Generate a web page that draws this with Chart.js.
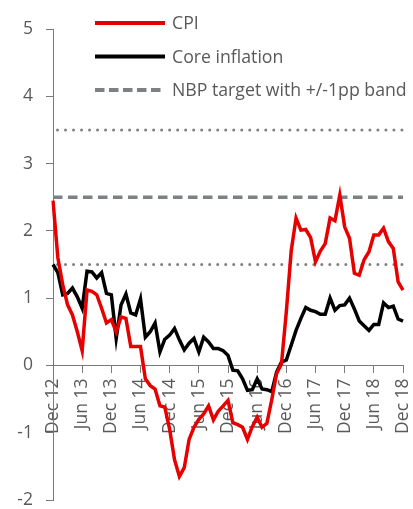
<!DOCTYPE html>
<html>
<head>
<meta charset="utf-8">
<script src="https://cdn.jsdelivr.net/npm/chart.js@4.4.1/dist/chart.umd.min.js"></script>
<style>
  html, body { margin: 0; padding: 0; background: #ffffff; }
  #wrap { width: 413px; height: 509px; position: relative; }
</style>
</head>
<body>
<div id="wrap"><canvas id="c" width="413" height="509"></canvas></div>
<script>
// ---- data ----
const months = [
  'Dec 12',
  'Jan 13','Feb 13','Mar 13','Apr 13','May 13','Jun 13','Jul 13','Aug 13','Sep 13','Oct 13','Nov 13','Dec 13',
  'Jan 14','Feb 14','Mar 14','Apr 14','May 14','Jun 14','Jul 14','Aug 14','Sep 14','Oct 14','Nov 14','Dec 14',
  'Jan 15','Feb 15','Mar 15','Apr 15','May 15','Jun 15','Jul 15','Aug 15','Sep 15','Oct 15','Nov 15','Dec 15',
  'Jan 16','Feb 16','Mar 16','Apr 16','May 16','Jun 16','Jul 16','Aug 16','Sep 16','Oct 16','Nov 16','Dec 16',
  'Jan 17','Feb 17','Mar 17','Apr 17','May 17','Jun 17','Jul 17','Aug 17','Sep 17','Oct 17','Nov 17','Dec 17',
  'Jan 18','Feb 18','Mar 18','Apr 18','May 18','Jun 18','Jul 18','Aug 18','Sep 18','Oct 18','Nov 18','Dec 18'
];
const tickLabels = ['Dec 12','Jun 13','Dec 13','Jun 14','Dec 14','Jun 15','Dec 15','Jun 16','Dec 16','Jun 17','Dec 17','Jun 18','Dec 18'];
const yTicks = [-2, -1, 0, 1, 2, 3, 4, 5];

const cpi = [
  2.45,
  1.6, 1.2, 0.9, 0.75, 0.5, 0.22, 1.12, 1.1, 1.05, 0.85, 0.63, 0.68,
  0.5, 0.72, 0.7, 0.28, 0.28, 0.28, -0.2, -0.3, -0.35, -0.6, -0.62, -0.95,
  -1.4, -1.65, -1.52, -1.1, -0.92, -0.8, -0.72, -0.6, -0.81, -0.68, -0.6, -0.52,
  -0.85, -0.88, -0.92, -1.1, -0.91, -0.77, -0.92, -0.86, -0.51, -0.12, 0.02, 0.8,
  1.7, 2.19, 2.01, 2.02, 1.9, 1.54, 1.7, 1.81, 2.19, 2.15, 2.53, 2.06,
  1.89, 1.37, 1.34, 1.57, 1.69, 1.94, 1.94, 2.04, 1.84, 1.74, 1.24, 1.12
];
const core = [
  1.5,
  1.38, 1.05, 1.07, 1.15, 1.02, 0.85, 1.4, 1.39, 1.3, 1.38, 1.07, 1.05,
  0.4, 0.9, 1.06, 0.78, 0.75, 0.99, 0.42, 0.5, 0.63, 0.2, 0.39, 0.45,
  0.55, 0.38, 0.23, 0.33, 0.4, 0.2, 0.42, 0.35, 0.25, 0.25, 0.22, 0.15,
  -0.07, -0.08, -0.2, -0.37, -0.36, -0.2, -0.35, -0.36, -0.39, -0.1, 0.05, 0.08,
  0.3, 0.52, 0.7, 0.86, 0.82, 0.8, 0.76, 0.76, 1.0, 0.82, 0.89, 0.9,
  1.0, 0.84, 0.66, 0.59, 0.52, 0.61, 0.61, 0.93, 0.86, 0.88, 0.69, 0.66
];
const targetLevel = [2.5];
const bandLevels = [1.5, 3.5];
const seriesNames = ['CPI', 'Core inflation', 'NBP target with +/-1pp band'];

// ---- styles ----
const RED = '#e60000';
const BLACK = '#000000';
const GREY = '#7c8184';
const AXIS = '#7a7a7a';
const TEXT = '#595959';
const FONT = '"Open Sans", "DejaVu Sans", sans-serif';

function flatLine(level) {
  return [{ x: months[0], y: level }, { x: months[months.length - 1], y: level }];
}

const legendPlugin = {
  id: 'customLegend',
  afterDraw(chart) {
    const ctx = chart.ctx;
    const items = [
      { text: seriesNames[0], color: RED, dash: [] },
      { text: seriesNames[1], color: BLACK, dash: [] },
      { text: seriesNames[2], color: GREY, dash: [9.5, 4.5] }
    ];
    const x0 = 95, x1 = 165, tx = 172, ys = [23, 56.5, 90];
    ctx.save();
    ctx.font = '17.7px ' + FONT;
    ctx.textBaseline = 'middle';
    ctx.textAlign = 'left';
    items.forEach((it, i) => {
      ctx.beginPath();
      ctx.setLineDash(it.dash);
      ctx.lineWidth = 4;
      ctx.lineCap = 'butt';
      ctx.strokeStyle = it.color;
      ctx.moveTo(x0, ys[i]);
      ctx.lineTo(x1, ys[i]);
      ctx.stroke();
      ctx.setLineDash([]);
      ctx.fillStyle = TEXT;
      ctx.fillText(it.text, tx, ys[i] + 1);
    });
    ctx.restore();
  }
};

new Chart(document.getElementById('c'), {
  type: 'line',
  data: {
    labels: months,
    datasets: [
      { label: seriesNames[0], data: cpi, borderColor: RED, borderWidth: 3.5, pointRadius: 0, tension: 0, fill: false },
      { label: seriesNames[1], data: core, borderColor: BLACK, borderWidth: 3.5, pointRadius: 0, tension: 0, fill: false },
      { label: seriesNames[2], data: flatLine(targetLevel[0]), borderColor: GREY, borderWidth: 3.5, borderDash: [9.5, 5.5], pointRadius: 0, fill: false },
      { label: 'band low', data: flatLine(bandLevels[0]), borderColor: GREY, borderWidth: 3, borderDash: [0.01, 8], borderDashOffset: -4.5, borderCapStyle: 'round', pointRadius: 0, fill: false },
      { label: 'band high', data: flatLine(bandLevels[1]), borderColor: GREY, borderWidth: 3, borderDash: [0.01, 8], borderDashOffset: -4.5, borderCapStyle: 'round', pointRadius: 0, fill: false }
    ]
  },
  options: {
    responsive: false,
    animation: false,
    devicePixelRatio: 1,
    layout: { padding: { top: 29, right: 10, bottom: 9, left: 0 } },
    plugins: { legend: { display: false }, tooltip: { enabled: false } },
    scales: {
      x: {
        type: 'category',
        position: { y: 0 },
        offset: false,
        border: { display: true, color: AXIS, width: 1 },
        grid: { display: true, drawOnChartArea: false, drawTicks: true, tickLength: 7, tickColor: AXIS, tickWidth: 1 },
        ticks: {
          autoSkip: false,
          minRotation: 90,
          maxRotation: 90,
          padding: 6,
          color: TEXT,
          font: { family: FONT, size: 17.5 },
          callback: function (value) {
            const l = this.getLabelForValue(value);
            return tickLabels.includes(l) ? l : null;
          }
        },
        afterFit: function (scale) { scale.paddingLeft = 0; scale.paddingRight = 0; }
      },
      y: {
        type: 'linear',
        min: yTicks[0],
        max: yTicks[yTicks.length - 1],
        border: { display: true, color: AXIS, width: 1 },
        grid: { display: true, drawOnChartArea: false, drawTicks: true, tickLength: 7, tickColor: AXIS, tickWidth: 1 },
        ticks: {
          stepSize: 1,
          padding: 13,
          color: TEXT,
          font: { family: FONT, size: 17.5 }
        },
        afterFit: function (scale) { scale.width = 53; scale.paddingTop = 0; scale.paddingBottom = 0; }
      }
    }
  },
  plugins: [legendPlugin]
});
</script>
</body>
</html>
